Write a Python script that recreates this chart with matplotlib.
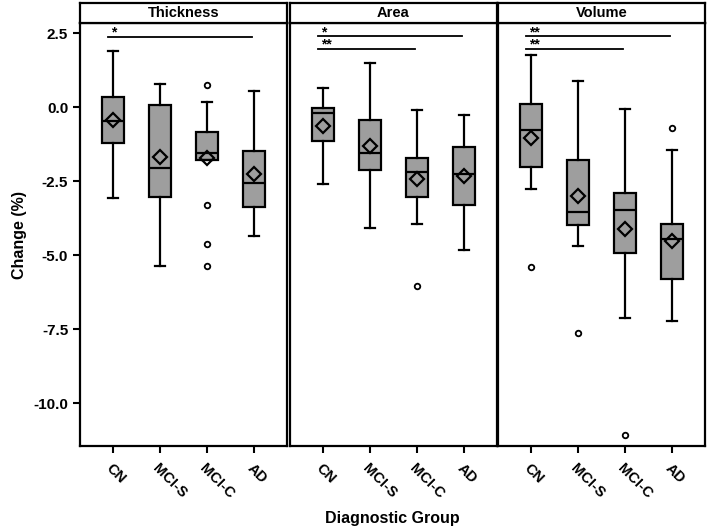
import matplotlib
matplotlib.use("Agg")
import matplotlib.pyplot as plt
from matplotlib.ticker import FixedLocator

plt.rcParams['font.family'] = ['Liberation Sans', 'DejaVu Sans']
plt.rcParams['font.weight'] = 'bold'

categories = ["CN", "MCI-S", "MCI-C", "AD"]
panels = ["Thickness", "Area", "Volume"]
yticks = [2.5, 0.0, -2.5, -5.0, -7.5, -10.0]
ytick_labels = ["2.5", "0.0", "-2.5", "-5.0", "-7.5", "-10.0"]

thickness_whislo = [-3.08, -5.37, -1.80, -4.36]
thickness_q1 = [-1.23, -3.05, -1.80, -3.36]
thickness_med = [-0.47, -2.07, -1.55, -2.57]
thickness_q3 = [0.35, 0.06, -0.85, -1.48]
thickness_whishi = [1.90, 0.77, 0.16, 0.55]
thickness_mean = [-0.44, -1.70, -1.73, -2.27]
thickness_fliers = [[], [], [0.73, -3.31, -4.64, -5.36], []]

area_whislo = [-2.60, -4.10, -3.95, -4.83]
area_q1 = [-1.13, -2.11, -3.05, -3.31]
area_med = [-0.21, -1.55, -2.20, -2.26]
area_q3 = [-0.04, -0.44, -1.72, -1.34]
area_whishi = [0.66, 1.48, -0.10, -0.27]
area_mean = [-0.64, -1.31, -2.44, -2.32]
area_fliers = [[], [], [-6.06], []]

volume_whislo = [-2.77, -4.71, -7.14, -7.23]
volume_q1 = [-2.03, -4.00, -4.94, -5.81]
volume_med = [-0.79, -3.55, -3.49, -4.47]
volume_q3 = [0.09, -1.80, -2.91, -3.96]
volume_whishi = [1.75, 0.88, -0.07, -1.44]
volume_mean = [-1.04, -3.01, -4.11, -4.52]
volume_fliers = [[-5.40], [-7.62], [-11.08], [-0.71]]

# significance: (from group, to group, label, level)
thickness_sig = [(0, 3, "*", 2.38)]
area_sig = [(0, 3, "*", 2.40), (0, 2, "**", 1.97)]
volume_sig = [(0, 3, "**", 2.40), (0, 2, "**", 1.97)]

data = {
    "Thickness": (thickness_whislo, thickness_q1, thickness_med, thickness_q3,
                  thickness_whishi, thickness_mean, thickness_fliers, thickness_sig),
    "Area": (area_whislo, area_q1, area_med, area_q3, area_whishi, area_mean,
             area_fliers, area_sig),
    "Volume": (volume_whislo, volume_q1, volume_med, volume_q3, volume_whishi,
               volume_mean, volume_fliers, volume_sig),
}

W, H = 709, 530
fig = plt.figure(figsize=(W / 100, H / 100), dpi=100)

lefts = [80, 290, 498]
pw = 207
ax_top, ax_bot = 23, 446
strip_top = 3

box_face = "#9e9e9e"
lw = 1.6

for i, name in enumerate(panels):
    wl, q1, med, q3, wh, mn, fl, sig = data[name]
    ax = fig.add_axes([lefts[i] / W, 1 - ax_bot / H, pw / W, (ax_bot - ax_top) / H])
    stats = []
    for k in range(len(categories)):
        stats.append(dict(whislo=wl[k], q1=q1[k], med=med[k], q3=q3[k],
                          whishi=wh[k], mean=mn[k], fliers=fl[k], label=categories[k]))
    ax.bxp(stats, positions=range(len(categories)), widths=0.45, capwidths=0.2,
           showmeans=True, patch_artist=True,
           boxprops=dict(facecolor=box_face, edgecolor="black", linewidth=lw),
           medianprops=dict(color="black", linewidth=lw),
           whiskerprops=dict(color="black", linewidth=lw),
           capprops=dict(color="black", linewidth=lw),
           meanprops=dict(marker="D", markerfacecolor="none", markeredgecolor="black",
                          markersize=7.5, markeredgewidth=1.6),
           flierprops=dict(marker="o", markerfacecolor="none", markeredgecolor="black",
                           markersize=4, markeredgewidth=1.3))
    ax.set_xlim(-0.7, 3.7)
    ax.set_ylim(-11.45, 2.84)
    for a, b, lab, lev in sig:
        ax.plot([a - 0.1, b - 0.05], [lev, lev], color="black", linewidth=1.3)
        ax.text(a - 0.04, lev + 0.0, lab, ha="left", va="baseline", fontsize=10,
                fontweight="bold")
    ax.set_xticks(range(len(categories)))
    ax.set_xticklabels(categories, rotation=-45, ha="left", va="top",
                       rotation_mode="anchor", fontsize=10.5, fontweight="bold")
    ax.tick_params(axis="x", direction="out", length=5, width=1.5, pad=6)
    ax.yaxis.set_major_locator(FixedLocator(yticks))
    if i == 0:
        ax.set_yticklabels(ytick_labels, fontsize=11, fontweight="bold")
        ax.tick_params(axis="y", direction="out", length=5, width=1.5)
    else:
        ax.tick_params(axis="y", left=False, labelleft=False)
    for s in ax.spines.values():
        s.set_linewidth(1.6)

    sax = fig.add_axes([lefts[i] / W, 1 - ax_top / H, pw / W, (ax_top - strip_top) / H])
    sax.set_xticks([])
    sax.set_yticks([])
    for s in sax.spines.values():
        s.set_linewidth(1.6)
    sax.text(0.5, 0.5, name, ha="center", va="center", fontsize=10.5,
             fontweight="bold", transform=sax.transAxes)

fig.text(20 / W, 1 - 235 / H, "Change (%)", rotation=90, ha="center", va="center",
         fontsize=11.5, fontweight="bold")
fig.text(392 / W, 1 - 518 / H, "Diagnostic Group", ha="center", va="center",
         fontsize=11.5, fontweight="bold")

fig.savefig("out.png", dpi=100)
